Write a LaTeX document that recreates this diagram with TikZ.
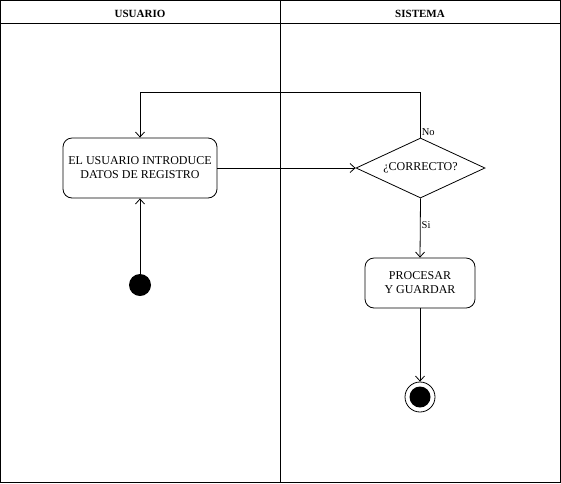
\documentclass[tikz,border=0pt]{standalone}
\usepackage{fontspec}
\setmainfont{Liberation Serif}
\usetikzlibrary{arrows.meta,shapes.geometric}
\begin{document}
\begin{tikzpicture}[x=1pt,y=1pt,line width=0.8pt,
  every node/.style={font=\fontsize{12}{14}\selectfont},
  act/.style={draw,rounded corners=9pt,align=center,inner sep=0pt},
  arr/.style={-{Straight Barb[length=5pt,width=9pt]}},
  lbl/.style={font=\fontsize{10.5}{12}\selectfont,inner sep=1pt}]
\useasboundingbox (0,0) rectangle (561,-483);
% swimlanes
\draw (0.5,-0.5) rectangle (560.5,-482.5);
\draw (0.5,-23) -- (560.5,-23);
\draw (280.5,-0.5) -- (280.5,-482.5);
\node[font=\fontsize{11}{13}\selectfont\bfseries] (h1) at (140,-14) {USUARIO};
\node[font=\fontsize{11}{13}\selectfont\bfseries] (h2) at (420,-14) {SISTEMA};
% nodes
\node[act,minimum width=154pt,minimum height=60pt] (a) at (140,-168) {EL USUARIO INTRODUCE\\DATOS DE REGISTRO};
\node[draw,diamond,aspect=2.15,minimum width=129pt,minimum height=60pt,inner sep=0pt] (d) at (420.5,-168) {¿CORRECTO?};
\node[act,minimum width=110pt,minimum height=50pt] (p) at (420,-283) {PROCESAR\\Y GUARDAR};
\node[circle,fill=black,minimum size=22pt,inner sep=0pt] (s) at (140,-285) {};
\node[circle,draw,minimum size=30pt,inner sep=0pt] (e) at (420,-397) {};
\node[circle,fill=black,minimum size=21pt,inner sep=0pt] (ei) at (420,-397) {};
\coordinate (c1) at (420.5,-92);
\coordinate (c2) at (140,-92);
% connectors
\draw[arr] (s) -- (a);
\draw[arr] (a) -- (d);
\draw[arr] (d.north) -- (c1) -- (c2) -- (a.north);
\draw[arr] (d.south) -- node[lbl,pos=0.45,right] {Si} (p.north);
\draw[arr] (p) -- (e);
\node[lbl,anchor=south west] (no) at (420.5,-137) {No};
\end{tikzpicture}
\end{document}
